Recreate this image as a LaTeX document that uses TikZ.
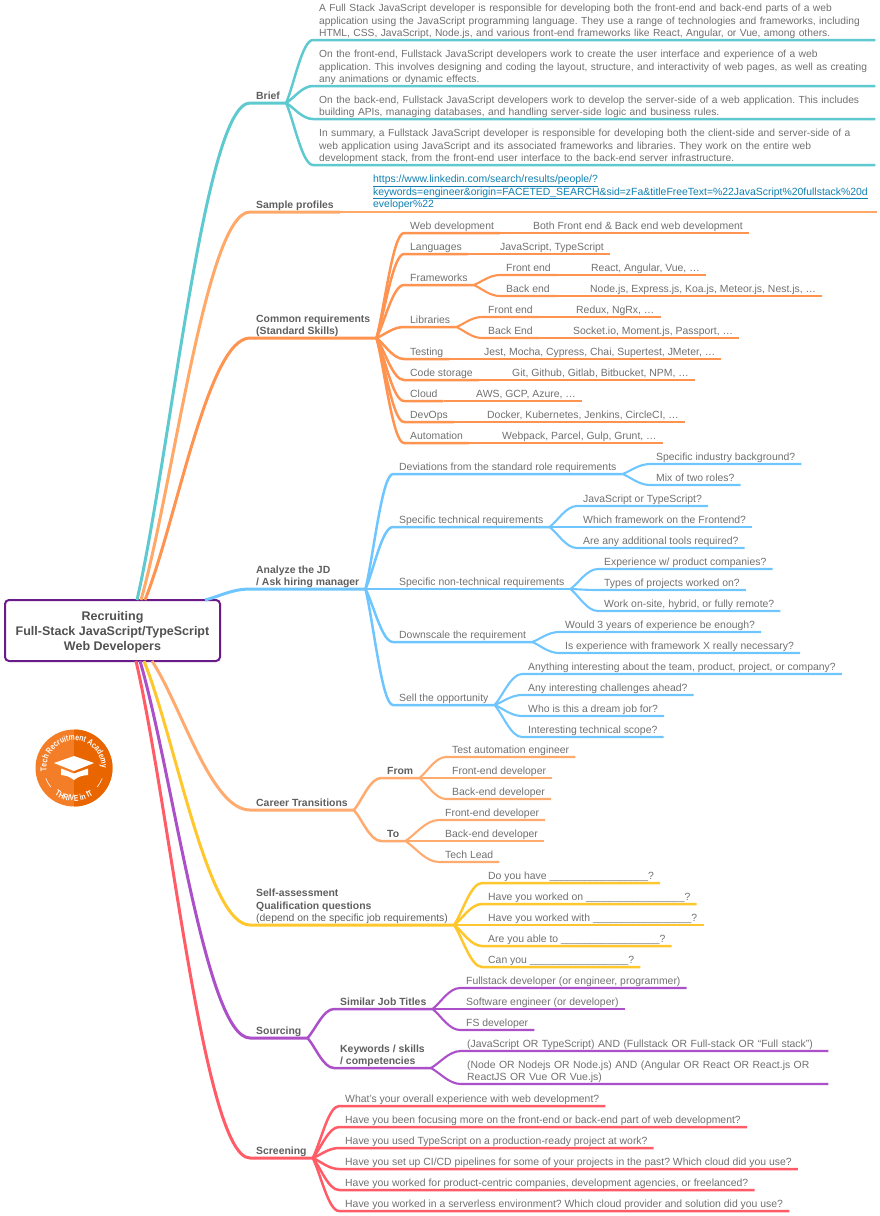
\documentclass[tikz,border=0pt]{standalone}
\usepackage{fontspec}
\setmainfont{Liberation Sans}
\newfontfamily\logofont[FakeStretch=0.8]{Liberation Sans}
\usepackage{tikz}
\usetikzlibrary{calc,positioning,decorations.text}

\definecolor{briefcol}{HTML}{5FC9D0}
\definecolor{samplecol}{HTML}{FFA868}
\definecolor{commoncol}{HTML}{FF9350}
\definecolor{analyzecol}{HTML}{6FC6FF}
\definecolor{careercol}{HTML}{FFAB70}
\definecolor{selfcol}{HTML}{FFC72E}
\definecolor{sourcecol}{HTML}{AB50C8}
\definecolor{screencol}{HTML}{FF5C68}
\definecolor{rootcol}{HTML}{6A1B8A}
\definecolor{urlcol}{HTML}{0F7FB0}
\definecolor{textcol}{HTML}{707070}
\definecolor{headcol}{HTML}{5F5F5F}
\definecolor{logolight}{HTML}{F47E28}
\definecolor{logodark}{HTML}{E96500}

\frenchspacing
\newcommand{\mapfont}{\frenchspacing\fontsize{10.42}{12.6}\selectfont}
\newcommand{\parafont}{\frenchspacing\fontsize{10.27}{12.6}\selectfont}
\newcommand{\badgefont}{\logofont\bfseries\fontsize{8.6}{9}\selectfont}
\newcommand{\gap}{\_\_\_\_\_\_\_\_\_\_\_\_\_\_\_\_\_}

\tikzset{
    topic/.style={anchor=south west, inner xsep=6pt, inner ysep=0pt, align=left, text=textcol,
        font=\mapfont, execute at end node={\rule[-3pt]{0pt}{1pt}}},
    head/.style={topic, text=headcol, font=\mapfont\bfseries},
    wide/.style={topic, text width=#1},
    para/.style={wide=550pt, font=\parafont},
    branch/.style={line join=round, to path={.. controls ($(\tikztostart)!0.3!(\tikztotarget)$)
        and ($(\tikztotarget)!0.4!(\tikztostart |- \tikztotarget)$) .. (\tikztotarget)}},
    mainlink/.style={branch, draw=#1, line width=3pt},
    sublink/.style={branch, draw=#1, line width=2.5pt},
    leaflink/.style={branch, draw=#1, line width=2.1pt}
}

\begin{document}
\begin{tikzpicture}[x=1pt, y=-1pt]
    \useasboundingbox (0,0) rectangle (880,1216);

    \node [draw=rootcol, line width=2pt, rounded corners=4pt, fill=white, align=center, text=headcol!85!black,
        minimum width=215pt, minimum height=61pt, inner sep=0pt,
        font=\fontsize{12.5}{15.2}\selectfont\bfseries] (root) at (112.5,630.5)
        {\rule{0pt}{13pt}Recruiting\\Full-Stack JavaScript/TypeScript\\Web Developers};

    \coordinate (origbrief) at (137,600);
    \coordinate (origsample) at (141,600);
    \coordinate (origcommon) at (145,600);
    \coordinate (origanalyze) at (205,600);
    \coordinate (origcareer) at (152,661);
    \coordinate (origself) at (144,661);
    \coordinate (origsource) at (140,661);
    \coordinate (origscreen) at (136,661);

    % Brief
    \node [head] (brief) at (250,103) {Brief};
    \node [para] (briefa) at (313,40) {A Full Stack JavaScript developer is responsible for developing both the front-end and back-end parts of a web\\\mbox{application using the JavaScript programming language. They use a range of technologies and frameworks, including}\\HTML, CSS, JavaScript, Node.js, and various front-end frameworks like React, Angular, or Vue, among others.};
    \node [para] (briefb) at (313,86) {On the front-end, Fullstack JavaScript developers work to create the user interface and experience of a web\\\mbox{application. This involves designing and coding the layout, structure, and interactivity of web pages, as well as creating}\\any animations or dynamic effects.};
    \node [para] (briefc) at (313,119) {\mbox{On the back-end, Fullstack JavaScript developers work to develop the server-side of a web application. This includes}\\building APIs, managing databases, and handling server-side logic and business rules.};
    \node [para] (briefd) at (313,165) {\mbox{In summary, a Fullstack JavaScript developer is responsible for developing both the client-side and server-side of a}\\web application using JavaScript and its associated frameworks and libraries. They work on the entire web\\development stack, from the front-end user interface to the back-end server infrastructure.};
    \draw [mainlink=briefcol] (origbrief) to (brief.south west) -- (brief.south east);
    \draw [sublink=briefcol] (brief.south east) to (briefa.south west) -- (briefa.south east);
    \draw [sublink=briefcol] (brief.south east) to (briefb.south west) -- (briefb.south east);
    \draw [sublink=briefcol] (brief.south east) to (briefc.south west) -- (briefc.south east);
    \draw [sublink=briefcol] (brief.south east) to (briefd.south west) -- (briefd.south east);

    % Sample profiles
    \node [head] (sample) at (250,212) {Sample profiles};
    \node [wide=498pt, text=urlcol] (sampleurl) at (367,212) {\underline{https://www.linkedin.com/search/results/people/?}\\\mbox{\underline{keywords=engineer\&origin=FACETED\_SEARCH\&sid=zFa\&titleFreeText=\%22JavaScript\%20fullstack\%20d}}\\\underline{eveloper\%22}};
    \draw [mainlink=samplecol] (origsample) to (sample.south west) -- (sample.south east);
    \draw [sublink=samplecol] (sample.south east) -- (sampleurl.south west) -- (sampleurl.south east);

    % Common requirements
    \node [head] (common) at (250,338) {Common requirements\\(Standard Skills)};
    \node [topic] (web) at (404,233) {Web development};
    \node [topic] (webtxt) at (527,233) {Both Front end \& Back end web development};
    \node [topic] (lang) at (404,254) {Languages};
    \node [topic] (langtxt) at (494,254) {JavaScript, TypeScript};
    \node [topic] (frame) at (404,285) {Frameworks};
    \node [topic] (framefe) at (500,275) {Front end};
    \node [topic] (framefetxt) at (585,275) {React, Angular, Vue, …};
    \node [topic] (frameen) at (500,296) {Back end};
    \node [topic] (frameentxt) at (584,296) {Node.js, Express.js, Koa.js, Meteor.js, Nest.js, …};
    \node [topic] (libs) at (404,327) {Libraries};
    \node [topic] (libsfe) at (482,317) {Front end};
    \node [topic] (libsfetxt) at (570,317) {Redux, NgRx, …};
    \node [topic] (libsen) at (482,338) {Back End};
    \node [topic] (libsentxt) at (567,338) {Socket.io, Moment.js, Passport, …};
    \node [topic] (test) at (404,359) {Testing};
    \node [topic] (testtxt) at (478,359) {Jest, Mocha, Cypress, Chai, Supertest, JMeter, …};
    \node [topic] (code) at (404,380) {Code storage};
    \node [topic] (codetxt) at (506,380) {Git, Github, Gitlab, Bitbucket, NPM, …};
    \node [topic] (cloud) at (404,401) {Cloud};
    \node [topic] (cloudtxt) at (470,401) {AWS, GCP, Azure, …};
    \node [topic] (devops) at (404,422) {DevOps};
    \node [topic] (devopstxt) at (481,422) {Docker, Kubernetes, Jenkins, CircleCI, …};
    \node [topic] (auto) at (404,443) {Automation};
    \node [topic] (autotxt) at (496,443) {Webpack, Parcel, Gulp, Grunt, …};
    \draw [mainlink=commoncol] (origcommon) to (common.south west) -- (common.south east);
    \draw [sublink=commoncol] (common.south east) to (web.south west) -- (web.south east);
    \draw [leaflink=commoncol] (web.south east) -- (webtxt.south west) -- (webtxt.south east);
    \draw [sublink=commoncol] (common.south east) to (lang.south west) -- (lang.south east);
    \draw [leaflink=commoncol] (lang.south east) -- (langtxt.south west) -- (langtxt.south east);
    \draw [sublink=commoncol] (common.south east) to (frame.south west) -- (frame.south east);
    \draw [leaflink=commoncol] (frame.south east) to (framefe.south west) -- (framefe.south east);
    \draw [leaflink=commoncol] (framefe.south east) -- (framefetxt.south west) -- (framefetxt.south east);
    \draw [leaflink=commoncol] (frame.south east) to (frameen.south west) -- (frameen.south east);
    \draw [leaflink=commoncol] (frameen.south east) -- (frameentxt.south west) -- (frameentxt.south east);
    \draw [sublink=commoncol] (common.south east) to (libs.south west) -- (libs.south east);
    \draw [leaflink=commoncol] (libs.south east) to (libsfe.south west) -- (libsfe.south east);
    \draw [leaflink=commoncol] (libsfe.south east) -- (libsfetxt.south west) -- (libsfetxt.south east);
    \draw [leaflink=commoncol] (libs.south east) to (libsen.south west) -- (libsen.south east);
    \draw [leaflink=commoncol] (libsen.south east) -- (libsentxt.south west) -- (libsentxt.south east);
    \draw [sublink=commoncol] (common.south east) to (test.south west) -- (test.south east);
    \draw [leaflink=commoncol] (test.south east) -- (testtxt.south west) -- (testtxt.south east);
    \draw [sublink=commoncol] (common.south east) to (code.south west) -- (code.south east);
    \draw [leaflink=commoncol] (code.south east) -- (codetxt.south west) -- (codetxt.south east);
    \draw [sublink=commoncol] (common.south east) to (cloud.south west) -- (cloud.south east);
    \draw [leaflink=commoncol] (cloud.south east) -- (cloudtxt.south west) -- (cloudtxt.south east);
    \draw [sublink=commoncol] (common.south east) to (devops.south west) -- (devops.south east);
    \draw [leaflink=commoncol] (devops.south east) -- (devopstxt.south west) -- (devopstxt.south east);
    \draw [sublink=commoncol] (common.south east) to (auto.south west) -- (auto.south east);
    \draw [leaflink=commoncol] (auto.south east) -- (autotxt.south west) -- (autotxt.south east);

    % Analyze the JD
    \node [head] (analyze) at (250,589) {Analyze the JD\\/ Ask hiring manager};
    \node [topic] (devia) at (393,474) {Deviations from the standard role requirements};
    \node [topic] (deviaa) at (650,464) {Specific industry background?};
    \node [topic] (deviab) at (650,485) {Mix of two roles?};
    \node [topic] (tech) at (393,527) {Specific technical requirements};
    \node [topic] (techa) at (577,506) {JavaScript or TypeScript?};
    \node [topic] (techb) at (577,527) {Which framework on the Frontend?};
    \node [topic] (techc) at (577,548) {Are any additional tools required?};
    \node [topic] (nontech) at (393,589) {Specific non-technical requirements};
    \node [topic] (nontecha) at (598,569) {Experience w/ product companies?};
    \node [topic] (nontechb) at (598,590) {Types of projects worked on?};
    \node [topic] (nontechc) at (598,611) {Work on-site, hybrid, or fully remote?};
    \node [topic] (down) at (393,642) {Downscale the requirement};
    \node [topic] (downa) at (559,632) {Would 3 years of experience be enough?};
    \node [topic] (downb) at (559,653) {Is experience with framework X really necessary?};
    \node [topic] (sell) at (393,705) {Sell the opportunity};
    \node [topic] (sella) at (522,674) {Anything interesting about the team, product, project, or company?};
    \node [topic] (sellb) at (522,695) {Any interesting challenges ahead?};
    \node [topic] (sellc) at (522,716) {Who is this a dream job for?};
    \node [topic] (selld) at (522,737) {Interesting technical scope?};
    \draw [mainlink=analyzecol] (origanalyze) to (analyze.south west) -- (analyze.south east);
    \draw [sublink=analyzecol] (analyze.south east) to (devia.south west) -- (devia.south east);
    \draw [leaflink=analyzecol] (devia.south east) to (deviaa.south west) -- (deviaa.south east);
    \draw [leaflink=analyzecol] (devia.south east) to (deviab.south west) -- (deviab.south east);
    \draw [sublink=analyzecol] (analyze.south east) to (tech.south west) -- (tech.south east);
    \draw [leaflink=analyzecol] (tech.south east) to (techa.south west) -- (techa.south east);
    \draw [leaflink=analyzecol] (tech.south east) to (techb.south west) -- (techb.south east);
    \draw [leaflink=analyzecol] (tech.south east) to (techc.south west) -- (techc.south east);
    \draw [sublink=analyzecol] (analyze.south east) to (nontech.south west) -- (nontech.south east);
    \draw [leaflink=analyzecol] (nontech.south east) to (nontecha.south west) -- (nontecha.south east);
    \draw [leaflink=analyzecol] (nontech.south east) to (nontechb.south west) -- (nontechb.south east);
    \draw [leaflink=analyzecol] (nontech.south east) to (nontechc.south west) -- (nontechc.south east);
    \draw [sublink=analyzecol] (analyze.south east) to (down.south west) -- (down.south east);
    \draw [leaflink=analyzecol] (down.south east) to (downa.south west) -- (downa.south east);
    \draw [leaflink=analyzecol] (down.south east) to (downb.south west) -- (downb.south east);
    \draw [sublink=analyzecol] (analyze.south east) to (sell.south west) -- (sell.south east);
    \draw [leaflink=analyzecol] (sell.south east) to (sella.south west) -- (sella.south east);
    \draw [leaflink=analyzecol] (sell.south east) to (sellb.south west) -- (sellb.south east);
    \draw [leaflink=analyzecol] (sell.south east) to (sellc.south west) -- (sellc.south east);
    \draw [leaflink=analyzecol] (sell.south east) to (selld.south west) -- (selld.south east);

    % Career Transitions
    \node [head] (career) at (250,810) {Career Transitions};
    \node [head] (from) at (381,778) {From};
    \node [topic] (froma) at (446,757) {Test automation engineer};
    \node [topic] (fromb) at (446,778) {Front-end developer};
    \node [topic] (fromc) at (446,799) {Back-end developer};
    \node [head] (to) at (381,841) {To};
    \node [topic] (toa) at (439,820) {Front-end developer};
    \node [topic] (tob) at (439,841) {Back-end developer};
    \node [topic] (toc) at (439,862) {Tech Lead};
    \draw [mainlink=careercol] (origcareer) to (career.south west) -- (career.south east);
    \draw [sublink=careercol] (career.south east) to (from.south west) -- (from.south east);
    \draw [leaflink=careercol] (from.south east) to (froma.south west) -- (froma.south east);
    \draw [leaflink=careercol] (from.south east) to (fromb.south west) -- (fromb.south east);
    \draw [leaflink=careercol] (from.south east) to (fromc.south west) -- (fromc.south east);
    \draw [sublink=careercol] (career.south east) to (to.south west) -- (to.south east);
    \draw [leaflink=careercol] (to.south east) to (toa.south west) -- (toa.south east);
    \draw [leaflink=careercol] (to.south east) to (tob.south west) -- (tob.south east);
    \draw [leaflink=careercol] (to.south east) to (toc.south west) -- (toc.south east);

    % Self-assessment
    \node [topic, text=headcol] (self) at (250,925) {\textbf{Self-assessment}\\\textbf{Qualification questions}\\(depend on the specific job requirements)};
    \node [topic] (selfa) at (482,883) {Do you have \gap?};
    \node [topic] (selfb) at (482,904) {Have you worked on \gap?};
    \node [topic] (selfc) at (482,925) {Have you worked with \gap?};
    \node [topic] (selfd) at (482,946) {Are you able to \gap?};
    \node [topic] (selfe) at (482,967) {Can you \gap?};
    \draw [mainlink=selfcol] (origself) to (self.south west) -- (self.south east);
    \draw [sublink=selfcol] (self.south east) to (selfa.south west) -- (selfa.south east);
    \draw [sublink=selfcol] (self.south east) to (selfb.south west) -- (selfb.south east);
    \draw [sublink=selfcol] (self.south east) to (selfc.south west) -- (selfc.south east);
    \draw [sublink=selfcol] (self.south east) to (selfd.south west) -- (selfd.south east);
    \draw [sublink=selfcol] (self.south east) to (selfe.south west) -- (selfe.south east);

    % Sourcing
    \node [head] (source) at (250,1038) {Sourcing};
    \node [head] (titles) at (334,1009) {Similar Job Titles};
    \node [topic] (titlesa) at (460,988) {Fullstack developer (or engineer, programmer)};
    \node [topic] (titlesb) at (460,1009) {Software engineer (or developer)};
    \node [topic] (titlesc) at (460,1030) {FS developer};
    \node [head] (words) at (334,1068) {Keywords / skills\\/ competencies};
    \node [wide=355pt] (wordsa) at (461,1051) {(JavaScript OR TypeScript) AND (Fullstack OR Full-stack OR “Full stack”)};
    \node [wide=355pt] (wordsb) at (461,1084) {(Node OR Nodejs OR Node.js) AND (Angular OR React OR React.js OR\\ReactJS OR Vue OR Vue.js)};
    \draw [mainlink=sourcecol] (origsource) to (source.south west) -- (source.south east);
    \draw [sublink=sourcecol] (source.south east) to (titles.south west) -- (titles.south east);
    \draw [leaflink=sourcecol] (titles.south east) to (titlesa.south west) -- (titlesa.south east);
    \draw [leaflink=sourcecol] (titles.south east) to (titlesb.south west) -- (titlesb.south east);
    \draw [leaflink=sourcecol] (titles.south east) to (titlesc.south west) -- (titlesc.south east);
    \draw [sublink=sourcecol] (source.south east) to (words.south west) -- (words.south east);
    \draw [leaflink=sourcecol] (words.south east) to (wordsa.south west) -- (wordsa.south east);
    \draw [leaflink=sourcecol] (words.south east) to (wordsb.south west) -- (wordsb.south east);

    % Screening
    \node [head] (screen) at (250,1158) {Screening};
    \node [topic] (screena) at (339,1106) {What’s your overall experience with web development?};
    \node [topic] (screenb) at (339,1127) {Have you been focusing more on the front-end or back-end part of web development?};
    \node [topic] (screenc) at (339,1148) {Have you used TypeScript on a production-ready project at work?};
    \node [topic] (screend) at (339,1169) {Have you set up CI/CD pipelines for some of your projects in the past? Which cloud did you use?};
    \node [topic] (screene) at (339,1190) {Have you worked for product-centric companies, development agencies, or freelanced?};
    \node [topic] (screenf) at (339,1211) {Have you worked in a serverless environment? Which cloud provider and solution did you use?};
    \draw [mainlink=screencol] (origscreen) to (screen.south west) -- (screen.south east);
    \draw [sublink=screencol] (screen.south east) to (screena.south west) -- (screena.south east);
    \draw [sublink=screencol] (screen.south east) to (screenb.south west) -- (screenb.south east);
    \draw [sublink=screencol] (screen.south east) to (screenc.south west) -- (screenc.south east);
    \draw [sublink=screencol] (screen.south east) to (screend.south west) -- (screend.south east);
    \draw [sublink=screencol] (screen.south east) to (screene.south west) -- (screene.south east);
    \draw [sublink=screencol] (screen.south east) to (screenf.south west) -- (screenf.south east);

    % logo
    \coordinate (logo) at (74,768);
    \fill [logolight] (logo) circle (38.5pt);
    \fill [logodark] (logo) ++(90:38.5pt) arc [start angle=90, end angle=-90, radius=38.5pt] -- cycle;
    \path [decorate, decoration={text along path, text align=center, text color=white,
        text={|\badgefont|Tech Recruitment Academy}}]
        (logo) ++(192:27.5pt) arc [start angle=192, end angle=-6, radius=27.5pt];
    \path [decorate, decoration={text along path, text align=center, text color=white,
        text={|\badgefont|THRIVE in IT}}]
        (logo) ++(222:33pt) arc [start angle=222, end angle=318, radius=33pt];
    \draw [white, line width=0.6pt] (logo) ++(200:30pt) arc [start angle=200, end angle=219, radius=30pt];
    \draw [white, line width=0.6pt] (logo) ++(321:30pt) arc [start angle=321, end angle=340, radius=30pt];
    \fill [white] (54,763) -- (74,756) -- (94,763) -- (74,771) -- cycle;
    \fill [white] (61,768.5) -- (74,773.5) -- (88,768.5) -- (88,775) .. controls (80,776) .. (74,780)
        .. controls (68,776) .. (61,775) -- cycle;
\end{tikzpicture}
\end{document}
